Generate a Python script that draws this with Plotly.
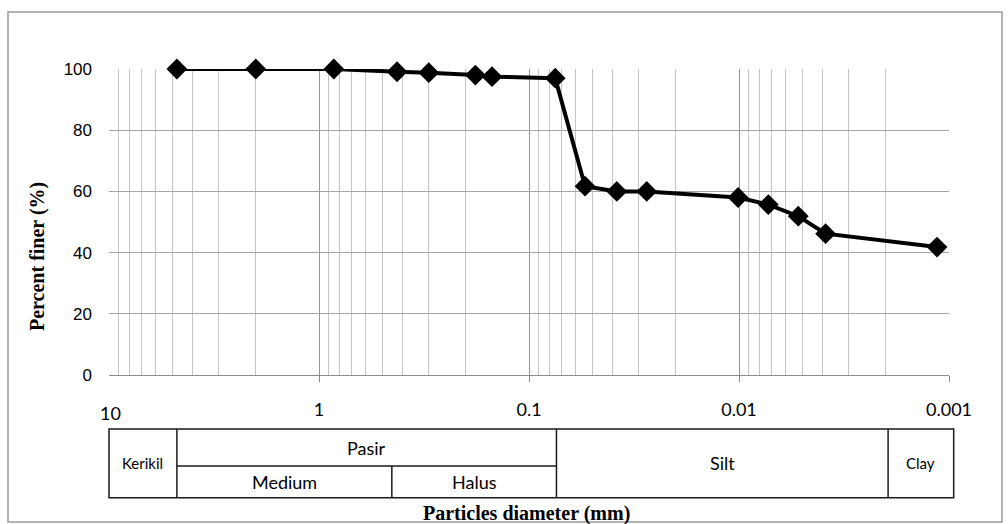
import math
import plotly.graph_objects as go

# ---- data ----
diameter_mm = [4.75, 2.0, 0.85, 0.425, 0.30, 0.18, 0.15, 0.075,
               0.0541, 0.0382, 0.0275, 0.0101, 0.00725, 0.00522, 0.00387, 0.00114]
percent_finer = [100, 100, 100, 99.1, 98.8, 98.0, 97.5, 97.0,
                 61.7, 60.0, 60.0, 58.0, 55.7, 51.9, 46.2, 41.8]

x_tick_vals = [1, 0.1, 0.01, 0.001]
x_tick_text = ["1", "0.1", "0.01", "0.001"]
x_first_label = "10"
y_tick_vals = [0, 20, 40, 60, 80, 100]

# soil classification table (boundaries in mm)
class_bounds = [10, 4.75, 0.45, 0.074, 0.00195, 0.00095]
class_labels_full = ["Kerikil", "Silt", "Clay"]          # full-height cells
pasir_label = "Pasir"
pasir_sub = ["Medium", "Halus"]

X_TITLE = "Particles diameter (mm)"
Y_TITLE = "Percent finer (%)"

# ---- figure ----
minor_vals = [m * 10.0 ** e for e in range(-3, 1) for m in range(2, 10)]

fig = go.Figure()
fig.add_trace(go.Scatter(
    x=diameter_mm, y=percent_finer, mode="lines+markers",
    line=dict(color="black", width=4),
    marker=dict(symbol="diamond", size=16, color="black"),
    showlegend=False, cliponaxis=False,
))

W, H = 1008, 524
ML, MR, MT, MB = 109, 59, 69, 149
PW, PH = W - ML - MR, H - MT - MB


def px_x(px):
    return (px - ML) / PW


def px_y(py):
    return (H - MB - py) / PH


def v2paper(v):
    return (1 - math.log10(v)) / 4.0


fig.update_layout(
    width=W, height=H,
    margin=dict(l=ML, r=MR, t=MT, b=MB),
    paper_bgcolor="white", plot_bgcolor="white",
    xaxis=dict(
        type="log", range=[1, -3],
        tickvals=x_tick_vals, ticktext=x_tick_text,
        tickfont=dict(family="Lato", size=18, color="black"),
        ticks="outside", ticklen=6, tickcolor="#8c8c8c", tickwidth=1,
        showline=True, linecolor="#8c8c8c", linewidth=1,
        showgrid=True, gridcolor="#959595", gridwidth=1,
        minor=dict(tickvals=minor_vals, showgrid=True, gridcolor="#c4c4c4", gridwidth=1, ticks=""),
        zeroline=False, ticklabelstandoff=12,
    ),
    yaxis=dict(
        range=[0, 100], tickvals=y_tick_vals,
        tickfont=dict(family="Liberation Sans", size=17, color="black"),
        showgrid=True, gridcolor="#a4a4a4", gridwidth=1,
        showline=False, zeroline=False, ticks="", ticklabelstandoff=16,
    ),
)

shapes = []
# outer frame
shapes.append(dict(type="rect", xref="paper", yref="paper",
                   x0=px_x(8), x1=px_x(1002), y0=px_y(522), y1=px_y(12),
                   line=dict(color="#9a9a9a", width=1.5)))
# table
ty0, tym, ty1 = px_y(429), px_y(466), px_y(497.7)
bx = [v2paper(v) for v in class_bounds]
shapes.append(dict(type="rect", xref="paper", yref="paper",
                   x0=bx[0], x1=bx[-1], y0=ty1, y1=ty0,
                   line=dict(color="#1a1a1a", width=1.5)))
for b in [bx[1], bx[3], bx[4]]:
    shapes.append(dict(type="line", xref="paper", yref="paper",
                       x0=b, x1=b, y0=ty1, y1=ty0,
                       line=dict(color="#1a1a1a", width=1.5)))
shapes.append(dict(type="line", xref="paper", yref="paper",
                   x0=bx[1], x1=bx[3], y0=tym, y1=tym,
                   line=dict(color="#1a1a1a", width=1.5)))
shapes.append(dict(type="line", xref="paper", yref="paper",
                   x0=bx[2], x1=bx[2], y0=ty1, y1=tym,
                   line=dict(color="#1a1a1a", width=1.5)))
fig.update_layout(shapes=shapes)

ann = []
cell_font_big = dict(family="Lato", size=18, color="black")
cell_font_small = dict(family="Lato", size=15, color="black")
ymid = (ty0 + ty1) / 2
ann.append(dict(text=class_labels_full[0], x=(bx[0] + bx[1]) / 2, y=ymid, font=cell_font_small))
ann.append(dict(text=class_labels_full[1], x=(bx[3] + bx[4]) / 2, y=ymid, font=cell_font_big))
ann.append(dict(text=class_labels_full[2], x=(bx[4] + bx[5]) / 2, y=ymid, font=cell_font_small))
ann.append(dict(text=pasir_label, x=(bx[1] + bx[3]) / 2, y=(ty0 + tym) / 2, font=cell_font_big))
ann.append(dict(text=pasir_sub[0], x=(bx[1] + bx[2]) / 2, y=(tym + ty1) / 2, font=cell_font_big))
ann.append(dict(text=pasir_sub[1], x=(bx[2] + bx[3]) / 2, y=(tym + ty1) / 2, font=cell_font_big))
# first x tick label (sits a bit lower than the others)
ann.append(dict(text=x_first_label, x=px_x(110), y=px_y(413),
                font=dict(family="Lato", size=18, color="black")))
# axis titles
ann.append(dict(text=X_TITLE, x=px_x(526), y=px_y(513),
                font=dict(family="Liberation Serif", size=20, color="black", weight="bold")))
ann.append(dict(text=Y_TITLE, x=px_x(37), y=px_y(257), textangle=-90,
                font=dict(family="Liberation Serif", size=20, color="black", weight="bold")))
for a in ann:
    a.update(xref="paper", yref="paper", showarrow=False, xanchor="center", yanchor="middle")
fig.update_layout(annotations=ann)

fig.write_html("out.html")
